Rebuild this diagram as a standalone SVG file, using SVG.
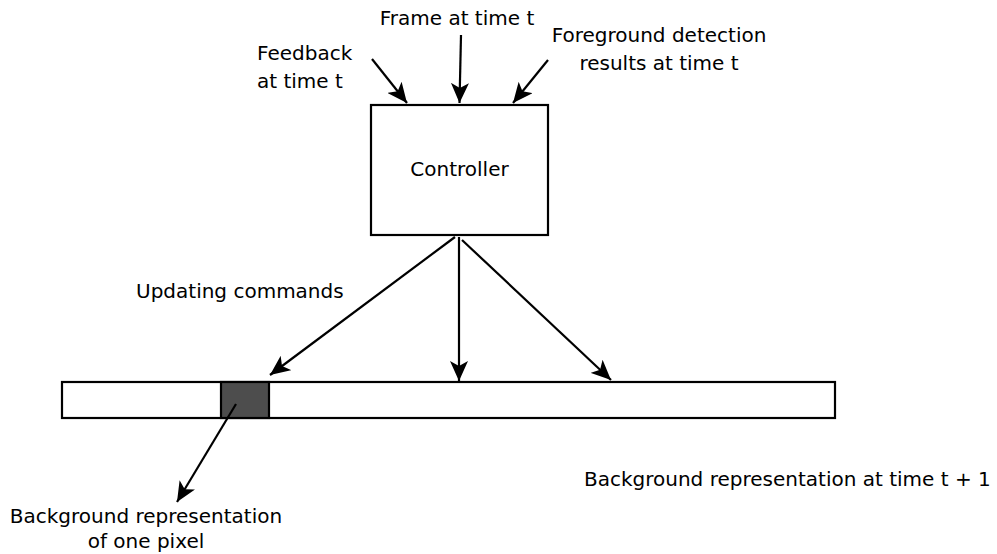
<svg xmlns="http://www.w3.org/2000/svg" width="997" height="554" viewBox="0 0 997 554">
<style>
text{font-family:"DejaVu Sans",sans-serif;font-size:20px;fill:#000}
.box{fill:#fff;stroke:#000;stroke-width:2.2}
.c{stroke:#000;stroke-width:2.2;fill:none;marker-end:url(#ah)}
</style>
<defs>
<marker id="ah" markerUnits="userSpaceOnUse" markerWidth="22" markerHeight="18" viewBox="0 0 22 18" refX="20" refY="9" orient="auto">
<path d="M0,0 L20,9 L0,18 L5,9 Z" fill="#000"/>
</marker>
</defs>
<rect width="997" height="554" fill="#fff"/>
<g id="controller">
<rect class="box" x="371" y="105" width="177" height="130"/>
<text x="459.5" y="176" text-anchor="middle">Controller</text>
</g>
<g id="bar">
<rect class="box" x="62" y="382" width="773" height="36"/>
<rect x="221" y="382" width="48" height="36" fill="#4d4d4d" stroke="#000" stroke-width="2.2"/>
</g>
<g id="labels">
<text x="257" y="60">Feedback</text>
<text x="257" y="88">at time t</text>
<text x="457" y="25" text-anchor="middle">Frame at time t</text>
<text x="659" y="42" text-anchor="middle">Foreground detection</text>
<text x="659" y="70" text-anchor="middle">results at time t</text>
<text x="136" y="298">Updating commands</text>
<text x="584" y="486">Background representation at time t + 1</text>
<text x="146" y="523" text-anchor="middle">Background representation</text>
<text x="146" y="548" text-anchor="middle">of one pixel</text>
</g>
<g id="connectors">
<line class="c" x1="372" y1="59" x2="407" y2="103"/>
<line class="c" x1="461" y1="35" x2="459.5" y2="103"/>
<line class="c" x1="548" y1="60" x2="513" y2="103"/>
<line class="c" x1="455" y1="237" x2="270" y2="375"/>
<line class="c" x1="459" y1="237" x2="459" y2="381"/>
<line class="c" x1="462" y1="240" x2="611" y2="380"/>
<line class="c" x1="236" y1="404" x2="177" y2="502"/>
</g>
</svg>
